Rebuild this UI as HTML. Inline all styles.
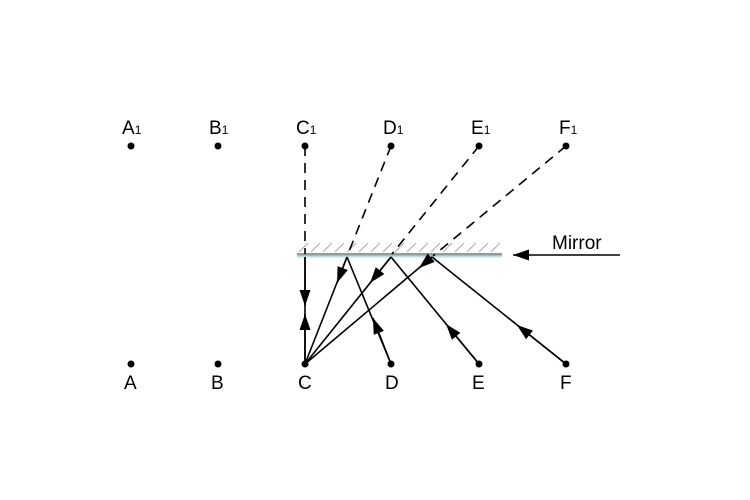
<!DOCTYPE html>
<html><head><meta charset="utf-8"><style>
html,body{margin:0;padding:0;background:#fff;}
svg{display:block;}
text{font-family:"Liberation Sans",Arial,sans-serif;font-size:19px;fill:#000;}
.s{font-size:12px;}
</style></head><body>
<svg width="750" height="500" viewBox="0 0 750 500" xmlns="http://www.w3.org/2000/svg">
<defs>
<marker id="a" markerUnits="userSpaceOnUse" markerWidth="18" markerHeight="12" refX="16" refY="5.5" orient="auto">
<path d="M0,0 L16,5.5 L0,11 z" fill="#000"/>
</marker>
<pattern id="h" x="297" y="241" width="12" height="12" patternUnits="userSpaceOnUse">
<line x1="2" y1="11" x2="11" y2="2" stroke="#aaa" stroke-width="1"/>
</pattern>
</defs>
<rect x="297" y="241" width="205" height="12" fill="url(#h)"/>
<rect x="297" y="253" width="205" height="2.5" fill="#999"/>
<rect x="297" y="255.5" width="205" height="2" fill="#aee4ea"/>
<g stroke="#000" stroke-width="1.6" stroke-dasharray="10,7" fill="none">
<line x1="305" y1="146" x2="305" y2="254"/>
<line x1="391" y1="146" x2="348" y2="254"/>
<line x1="479" y1="146" x2="392" y2="254"/>
<line x1="566" y1="146" x2="433" y2="256"/>
</g>
<g stroke="#000" stroke-width="1.6" fill="none">
<line x1="305" y1="257" x2="305" y2="364"/>
<line x1="305" y1="257" x2="305" y2="306" marker-end="url(#a)"/>
<line x1="305" y1="364" x2="305" y2="314" marker-end="url(#a)"/>
<line x1="391" y1="364" x2="347" y2="257"/>
<line x1="391" y1="364" x2="373" y2="318" marker-end="url(#a)"/>
<line x1="347" y1="257" x2="305" y2="364"/>
<line x1="347" y1="257" x2="337" y2="283" marker-end="url(#a)"/>
<line x1="391" y1="257" x2="305" y2="364"/>
<line x1="391" y1="257" x2="370" y2="283" marker-end="url(#a)"/>
<line x1="432" y1="257" x2="305" y2="364"/>
<line x1="432" y1="257" x2="419" y2="268" marker-end="url(#a)"/>
<line x1="479" y1="364" x2="391" y2="257"/>
<line x1="479" y1="364" x2="446" y2="324" marker-end="url(#a)"/>
<line x1="566" y1="364" x2="432" y2="257"/>
<line x1="566" y1="364" x2="517" y2="325" marker-end="url(#a)"/>
<line x1="620" y1="255" x2="513" y2="255" marker-end="url(#a)"/>
</g>
<g fill="#000">
<circle cx="131" cy="146" r="3.5"/><circle cx="218" cy="146" r="3.5"/><circle cx="305" cy="146" r="3.5"/>
<circle cx="391" cy="146" r="3.5"/><circle cx="479" cy="146" r="3.5"/><circle cx="566" cy="146" r="3.5"/>
<circle cx="131" cy="364" r="3.5"/><circle cx="218" cy="364" r="3.5"/><circle cx="305" cy="364" r="3.5"/>
<circle cx="391" cy="364" r="3.5"/><circle cx="479" cy="364" r="3.5"/><circle cx="566" cy="364" r="3.5"/>
</g>
<text x="122" y="134">A<tspan class="s">1</tspan></text>
<text x="209" y="134">B<tspan class="s">1</tspan></text>
<text x="296" y="134">C<tspan class="s">1</tspan></text>
<text x="383" y="134">D<tspan class="s">1</tspan></text>
<text x="471" y="134">E<tspan class="s">1</tspan></text>
<text x="559" y="134">F<tspan class="s">1</tspan></text>
<text x="124" y="389">A</text>
<text x="211" y="389">B</text>
<text x="298" y="389">C</text>
<text x="385" y="389">D</text>
<text x="472" y="389">E</text>
<text x="560" y="389">F</text>
<text x="552" y="249">Mirror</text>
</svg>
</body></html>
